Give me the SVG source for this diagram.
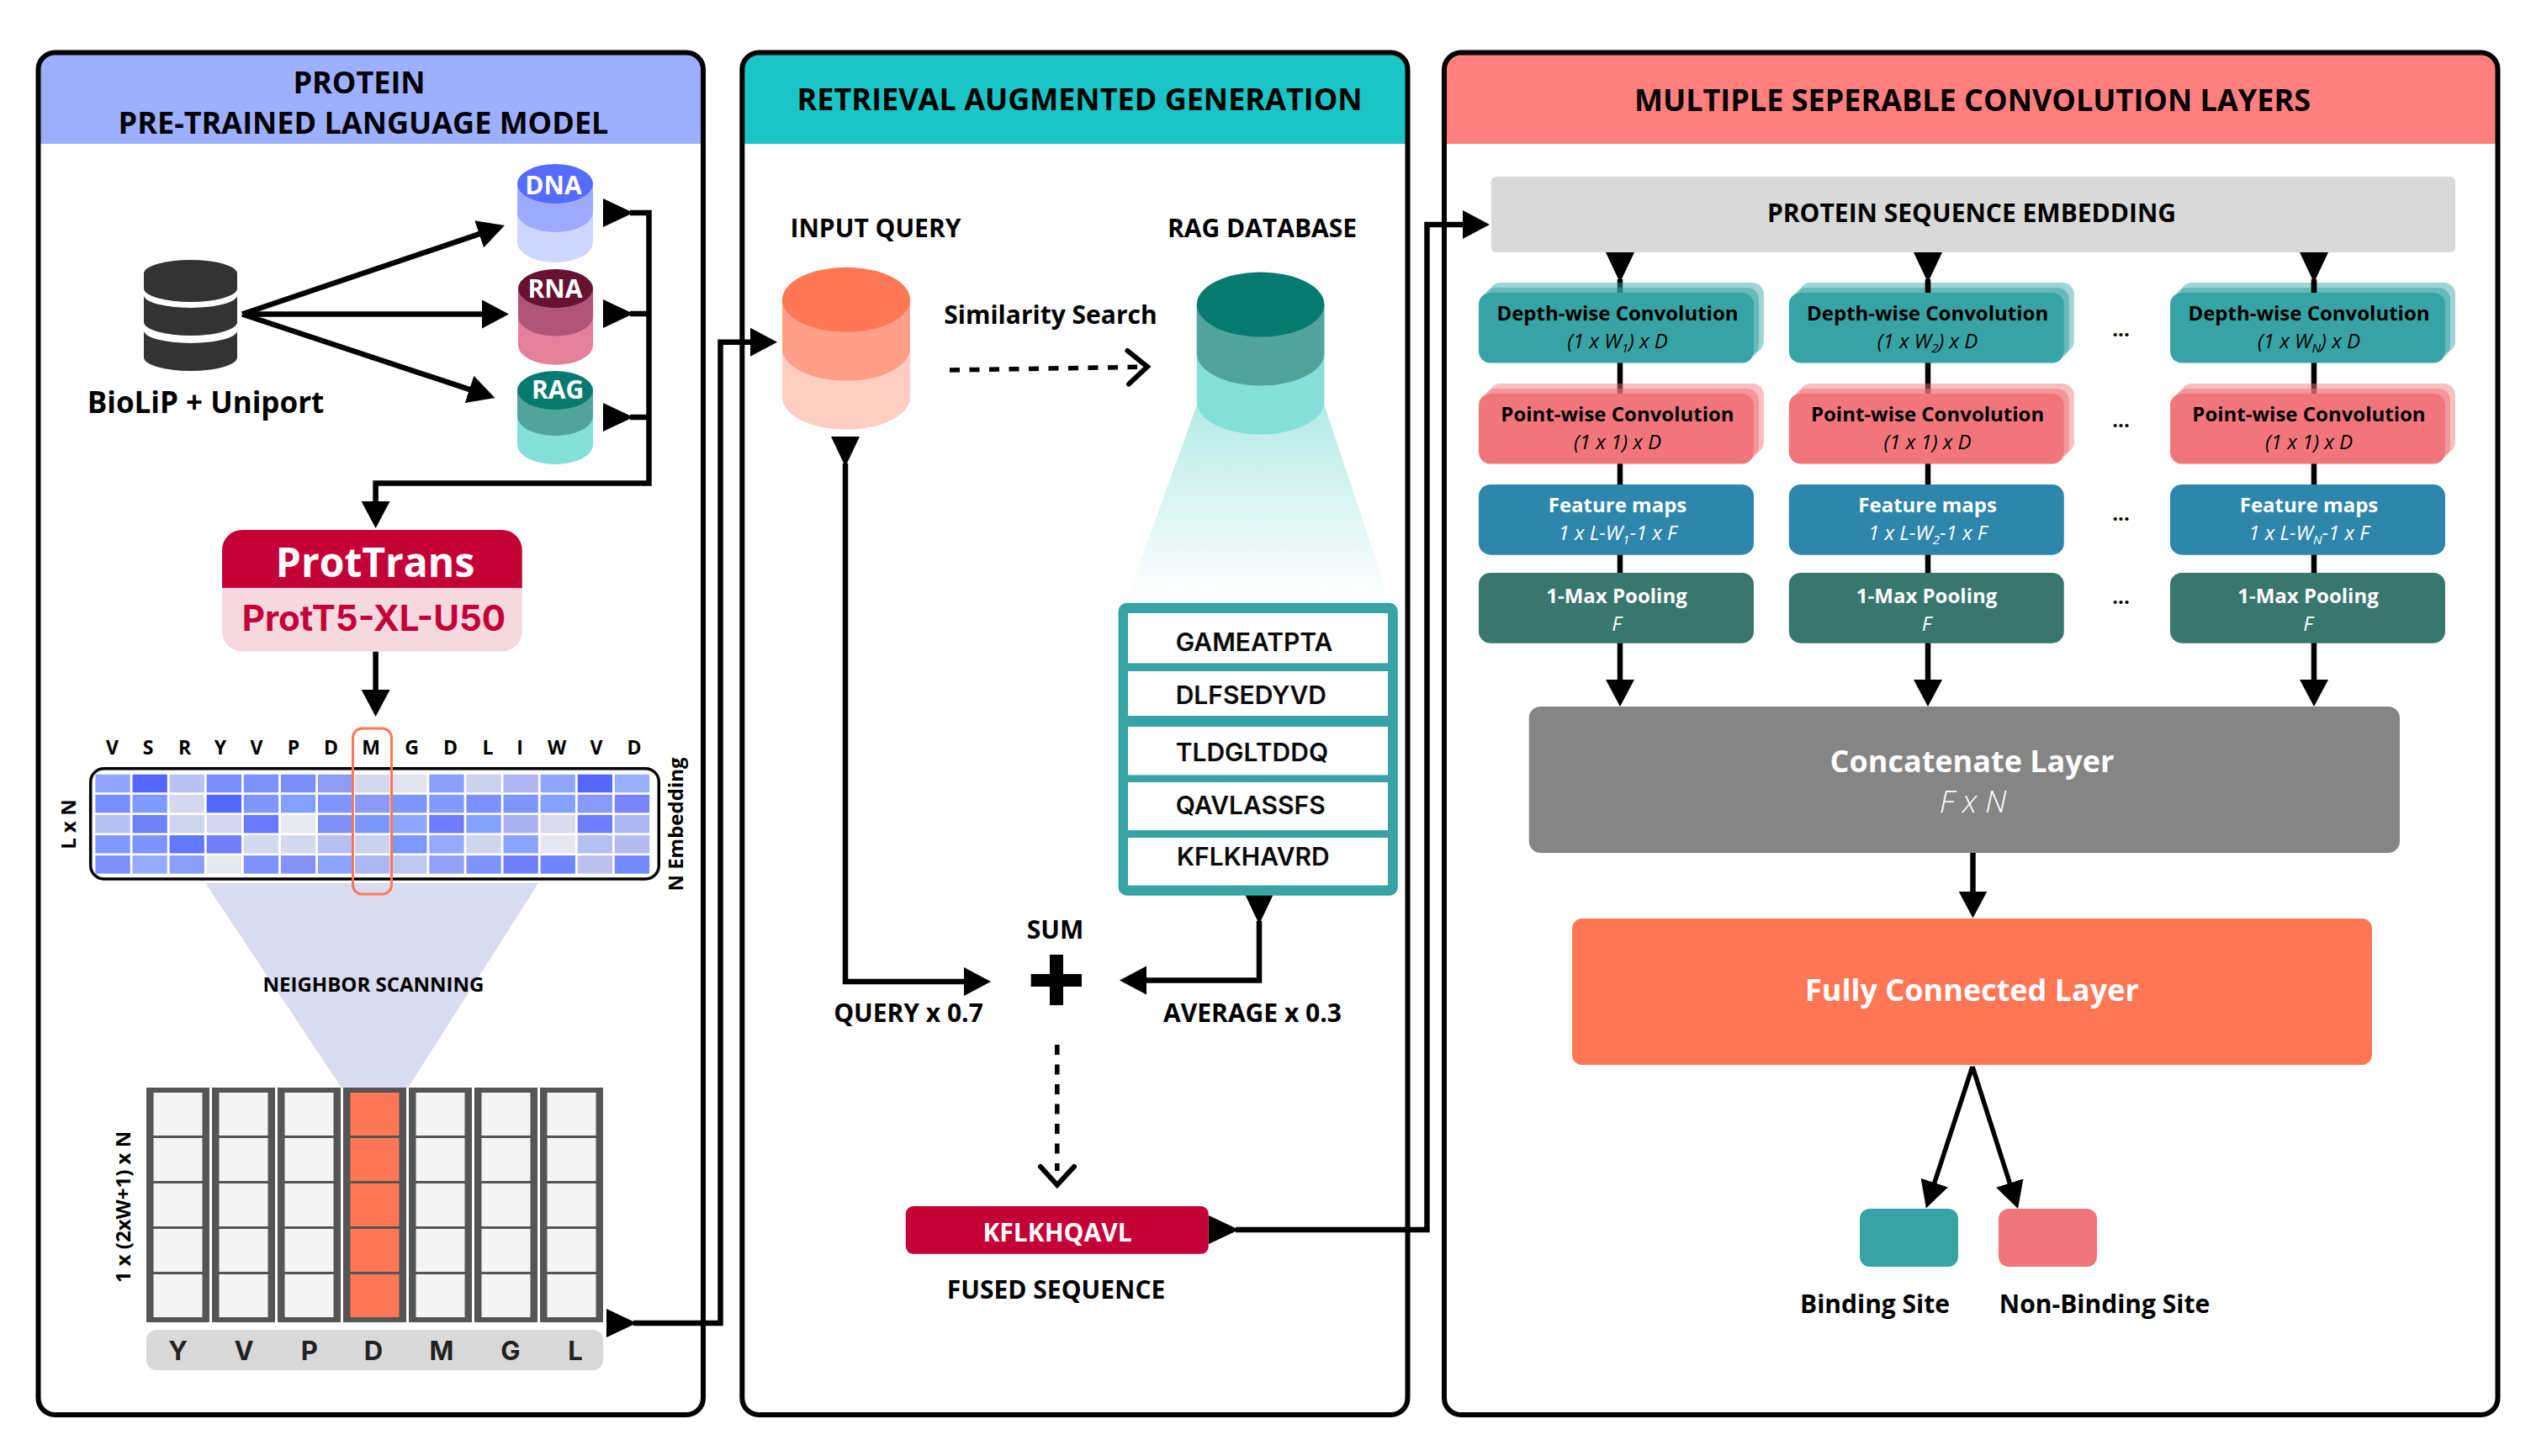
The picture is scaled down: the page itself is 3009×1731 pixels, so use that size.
<svg xmlns="http://www.w3.org/2000/svg" width="3009" height="1731" viewBox="0 0 3009 1731">
<style>
text{font-family:"Open Sans","Noto Sans",sans-serif;font-weight:700;fill:#000;text-anchor:middle}
.title{font-size:36px}
.lab{font-size:30px}
.seq{font-family:Inter,"Liberation Sans",sans-serif;font-size:30px;font-weight:600;text-anchor:start;fill:#0a0a0a}
.res{font-size:23px}
.win{font-family:Inter,"Liberation Sans",sans-serif;font-size:31px;fill:#222}
.rot{font-size:24px}
.db{font-size:30px;fill:#fff}
.h{font-size:24px}
.s{font-size:24px;font-weight:400;font-style:italic}
.w{fill:#fff}
.dots{font-size:24px}
.big{font-size:36px;fill:#fff}
.out{font-size:30px}
.panel{fill:none;stroke:#000;stroke-width:6}
.bg{fill:#fff}
.c{fill:none;stroke:#000;stroke-width:6.5}
.thin{stroke-width:5.5}
.m{marker-end:url(#arrow)}
.r{marker-start:url(#rev)}
.dash{fill:none;stroke:#000;stroke-width:5.5;stroke-dasharray:12 11.5}
.chev{fill:none;stroke:#000;stroke-width:6;stroke-linecap:round;stroke-linejoin:miter}
.depth{fill:#38a3a5}.point{fill:#f1767c}.map{fill:#2e86ab}.pool{fill:#38766e}
.o1{opacity:.47}.o2{opacity:.55}
.cell{fill:#f5f5f5}.hot{fill:#ff7755}.col{fill:#555}
</style>
<defs>
<marker id="arrow" markerUnits="userSpaceOnUse" markerWidth="32" markerHeight="34" viewBox="0 0 32 34" refX="22" refY="17" orient="auto"><path d="M0 0L32 17L0 34Z"/></marker>
<marker id="rev" markerUnits="userSpaceOnUse" markerWidth="36" markerHeight="34" viewBox="0 0 36 34" refX="32" refY="17" orient="auto"><path d="M0 0L36 17L0 34Z"/></marker>
<linearGradient id="fun" x1="0" y1="0" x2="0" y2="1"><stop offset="0" stop-color="#b5ebe6"/><stop offset="1" stop-color="#fff"/></linearGradient>
</defs>
<rect width="3009" height="1731" fill="#fff"/>

<g id="panel-protein">
<rect class="bg" x="45.500" y="62.500" width="790.500" height="1619.500" rx="20"/>
<path d="M45.500 171V82.500A20 20 0 0 1 65.500 62.500H816A20 20 0 0 1 836 82.500V171Z" fill="#9cb0ff"/>
<rect class="panel" x="45.500" y="62.500" width="790.500" height="1619.500" rx="20"/>
<text class="title" x="427" y="111">PROTEIN</text>
<text class="title" x="432" y="159">PRE-TRAINED LANGUAGE MODEL</text>
</g>
<g id="panel-rag">
<rect class="bg" x="882.300" y="62.500" width="791.200" height="1619.500" rx="20"/>
<path d="M882.300 171V82.500A20 20 0 0 1 902.300 62.500H1653.500A20 20 0 0 1 1673.500 82.500V171Z" fill="#1cc5c5"/>
<rect class="panel" x="882.300" y="62.500" width="791.200" height="1619.500" rx="20"/>
<text class="title" x="1283.600" y="131">RETRIEVAL AUGMENTED GENERATION</text>
</g>
<g id="panel-conv">
<rect class="bg" x="1717" y="62.500" width="1252.500" height="1619.500" rx="20"/>
<path d="M1717 171V82.500A20 20 0 0 1 1737 62.500H2949.500A20 20 0 0 1 2969.500 82.500V171Z" fill="#ff7f7f"/>
<rect class="panel" x="1717" y="62.500" width="1252.500" height="1619.500" rx="20"/>
<text class="title" x="2345" y="132">MULTIPLE SEPERABLE CONVOLUTION LAYERS</text>
</g>

<g id="neighbor-funnel"><path d="M244.400 1050H640L485 1293H405.800Z" fill="#d9dbee"/></g>
<g id="rag-funnel"><path d="M1423 481H1574.400L1652 714H1339Z" fill="url(#fun)"/></g>

<g id="connectors">
<path class="c" d="M288 373.500L590.500 271.200" marker-end="url(#arrow)"/>
<path class="c" d="M288 373.500H595" marker-end="url(#arrow)"/>
<path class="c" d="M288 373.500L578.900 469.900" marker-end="url(#arrow)"/>
<path class="c r m" d="M749 253H771.500V574.500H446.600V618"/>
<path class="c r" d="M749 373H771.500"/>
<path class="c r" d="M749 496H771.500"/>
<path class="c m" d="M446.600 774.500V842"/>
<path class="c r m" d="M753 1573H856.500V406.700H914"/>
<path class="c r m" d="M1005 551V1167H1168"/>
<path class="c r m" d="M1497 1095V1165.500H1341"/>
<path class="dash" d="M1129 440L1352 436.300"/>
<path class="chev" d="M1340.400 417L1364 436L1342 456.600"/>
<path class="dash" d="M1256.800 1242V1392"/>
<path class="chev" d="M1237 1387L1256.800 1408.700L1277 1387"/>
<path class="c r m" d="M1469 1462H1696.500V267H1761"/>
<path class="c r m" d="M1926 332V830"/>
<path class="c r m" d="M2292 332V830"/>
<path class="c r m" d="M2751 332V830"/>
<path class="c m" d="M2345.500 1014V1081.500"/>
<path class="c thin m" d="M2345 1268L2293 1427"/>
<path class="c thin m" d="M2345 1268L2396 1427.500"/>
</g>

<g id="biolip">
<path fill="#333" d="M171 325A55.500 16 0 0 1 282 325V343A55.500 16 0 0 1 171 343Z"/>
<path fill="#333" d="M171 351A55.500 15 0 0 0 282 351V383A55.500 16 0 0 1 171 383Z"/>
<path fill="#333" d="M171 393A55.500 15 0 0 0 282 393V425A55.500 16 0 0 1 171 425Z"/>
<text x="244.500" y="491" font-size="35" style="font-size:35px">BioLiP + Uniport</text>
</g>
<g id="db-dna">
<path fill="#cdd7ff" d="M615 218.500V288.500A45 23.500 0 0 0 705 288.500V218.500Z"/>
<path fill="#9daaff" d="M615 218.500V252.500A45 23.500 0 0 0 705 252.500V218.500Z"/>
<ellipse cx="660" cy="218.500" rx="45" ry="23.500" fill="#566bff"/>
<text class="db" x="658" y="231">DNA</text>
</g>
<g id="db-rna">
<path fill="#e47f9c" d="M616 343V410.700A44.500 23 0 0 0 705 410.700V343Z"/>
<path fill="#b05577" d="M616 343V376.500A44.500 23 0 0 0 705 376.500V343Z"/>
<ellipse cx="660.500" cy="343" rx="44.500" ry="23" fill="#661233"/>
<text class="db" x="660" y="354">RNA</text>
</g>
<g id="db-rag">
<path fill="#84e0d9" d="M615 464V529A45 23 0 0 0 705 529V464Z"/>
<path fill="#52a39c" d="M615 464V495A45 23 0 0 0 705 495V464Z"/>
<ellipse cx="660" cy="464" rx="45" ry="23" fill="#077a70"/>
<text class="db" x="663" y="474">RAG</text>
</g>
<g id="prottrans">
<path fill="#f5d8e0" d="M264 690H620.700V750.500A24 24 0 0 1 596.700 774.500H288A24 24 0 0 1 264 750.500Z"/>
<path fill="#c40039" d="M264 699V654A24 24 0 0 1 288 630H596.700A24 24 0 0 1 620.700 654V699Z"/>
<text x="446" y="686" style="font-size:48px;fill:#fff">ProtTrans</text>
<text x="444.500" y="750" style="font-size:42px;font-family:Inter,'Liberation Sans',sans-serif;fill:#c40039">ProtT5-XL-U50</text>
</g>

<g id="residues">
<text class="res" x="133.600" y="896.700">V</text><text class="res" x="176" y="896.700">S</text><text class="res" x="219.500" y="896.700">R</text><text class="res" x="262" y="896.700">Y</text><text class="res" x="305" y="896.700">V</text><text class="res" x="349" y="896.700">P</text><text class="res" x="393.500" y="896.700">D</text><text class="res" x="441" y="896.700">M</text><text class="res" x="489.500" y="896.700">G</text><text class="res" x="535.400" y="896.700">D</text><text class="res" x="580" y="896.700">L</text><text class="res" x="618" y="896.700">I</text><text class="res" x="662" y="896.700">W</text><text class="res" x="709" y="896.700">V</text><text class="res" x="754" y="896.700">D</text>
</g>
<g id="embedding-matrix">
<rect x="107.700" y="913.700" width="675.600" height="131.300" rx="16" fill="#fff" stroke="#000" stroke-width="3.500"/>
<g id="matrix-r1">
<rect x="113.400" y="920.700" width="41.300" height="21.500" fill="#8fa5ff"/><rect x="157.500" y="920.700" width="41.300" height="21.500" fill="#5468ff"/><rect x="201.600" y="920.700" width="41.300" height="21.500" fill="#b9c2f2"/><rect x="245.700" y="920.700" width="41.300" height="21.500" fill="#7a8fff"/><rect x="289.800" y="920.700" width="41.300" height="21.500" fill="#7f93ff"/><rect x="333.900" y="920.700" width="41.300" height="21.500" fill="#7a8fff"/><rect x="378" y="920.700" width="41.300" height="21.500" fill="#8e9bf5"/><rect x="422.100" y="920.700" width="41.300" height="21.500" fill="#d5d8ee"/><rect x="466.200" y="920.700" width="41.300" height="21.500" fill="#e3e4f0"/><rect x="510.300" y="920.700" width="41.300" height="21.500" fill="#8a9fff"/><rect x="554.400" y="920.700" width="41.300" height="21.500" fill="#cdd1f0"/><rect x="598.500" y="920.700" width="41.300" height="21.500" fill="#aeb5f2"/><rect x="642.600" y="920.700" width="41.300" height="21.500" fill="#8fa6ff"/><rect x="686.700" y="920.700" width="41.300" height="21.500" fill="#5468ff"/><rect x="730.800" y="920.700" width="41.300" height="21.500" fill="#97adff"/>
</g>
<g id="matrix-r2">
<rect x="113.400" y="944.800" width="41.300" height="21.500" fill="#7a8dff"/><rect x="157.500" y="944.800" width="41.300" height="21.500" fill="#7f9bff"/><rect x="201.600" y="944.800" width="41.300" height="21.500" fill="#d6d9ee"/><rect x="245.700" y="944.800" width="41.300" height="21.500" fill="#5468ff"/><rect x="289.800" y="944.800" width="41.300" height="21.500" fill="#7f96ff"/><rect x="333.900" y="944.800" width="41.300" height="21.500" fill="#84a0ff"/><rect x="378" y="944.800" width="41.300" height="21.500" fill="#7f94ff"/><rect x="422.100" y="944.800" width="41.300" height="21.500" fill="#8c98f5"/><rect x="466.200" y="944.800" width="41.300" height="21.500" fill="#7f96ff"/><rect x="510.300" y="944.800" width="41.300" height="21.500" fill="#8499ff"/><rect x="554.400" y="944.800" width="41.300" height="21.500" fill="#7d90ff"/><rect x="598.500" y="944.800" width="41.300" height="21.500" fill="#7f96ff"/><rect x="642.600" y="944.800" width="41.300" height="21.500" fill="#86a0ff"/><rect x="686.700" y="944.800" width="41.300" height="21.500" fill="#8899fa"/><rect x="730.800" y="944.800" width="41.300" height="21.500" fill="#7986fa"/>
</g>
<g id="matrix-r3">
<rect x="113.400" y="968.900" width="41.300" height="21.500" fill="#b5bef2"/><rect x="157.500" y="968.900" width="41.300" height="21.500" fill="#6f80fb"/><rect x="201.600" y="968.900" width="41.300" height="21.500" fill="#d0d5ef"/><rect x="245.700" y="968.900" width="41.300" height="21.500" fill="#d2d6f0"/><rect x="289.800" y="968.900" width="41.300" height="21.500" fill="#6879ff"/><rect x="333.900" y="968.900" width="41.300" height="21.500" fill="#e8e9ee"/><rect x="378" y="968.900" width="41.300" height="21.500" fill="#7f8ff8"/><rect x="422.100" y="968.900" width="41.300" height="21.500" fill="#7d97ff"/><rect x="466.200" y="968.900" width="41.300" height="21.500" fill="#8ea6ff"/><rect x="510.300" y="968.900" width="41.300" height="21.500" fill="#6e7cfa"/><rect x="554.400" y="968.900" width="41.300" height="21.500" fill="#86a0ff"/><rect x="598.500" y="968.900" width="41.300" height="21.500" fill="#a9b3f4"/><rect x="642.600" y="968.900" width="41.300" height="21.500" fill="#d9daec"/><rect x="686.700" y="968.900" width="41.300" height="21.500" fill="#6f7ffb"/><rect x="730.800" y="968.900" width="41.300" height="21.500" fill="#aeb7f2"/>
</g>
<g id="matrix-r4">
<rect x="113.400" y="993" width="41.300" height="21.500" fill="#8197ff"/><rect x="157.500" y="993" width="41.300" height="21.500" fill="#7d93ff"/><rect x="201.600" y="993" width="41.300" height="21.500" fill="#6477ff"/><rect x="245.700" y="993" width="41.300" height="21.500" fill="#6f7ffa"/><rect x="289.800" y="993" width="41.300" height="21.500" fill="#d3d9f1"/><rect x="333.900" y="993" width="41.300" height="21.500" fill="#d3d8ef"/><rect x="378" y="993" width="41.300" height="21.500" fill="#b7bff0"/><rect x="422.100" y="993" width="41.300" height="21.500" fill="#ccd1f0"/><rect x="466.200" y="993" width="41.300" height="21.500" fill="#7f98ff"/><rect x="510.300" y="993" width="41.300" height="21.500" fill="#95aaff"/><rect x="554.400" y="993" width="41.300" height="21.500" fill="#d0d5ee"/><rect x="598.500" y="993" width="41.300" height="21.500" fill="#8ca3ff"/><rect x="642.600" y="993" width="41.300" height="21.500" fill="#e6e7f0"/><rect x="686.700" y="993" width="41.300" height="21.500" fill="#b6bff2"/><rect x="730.800" y="993" width="41.300" height="21.500" fill="#b3baee"/>
</g>
<g id="matrix-r5">
<rect x="113.400" y="1017.100" width="41.300" height="21.500" fill="#7d90ff"/><rect x="157.500" y="1017.100" width="41.300" height="21.500" fill="#94acff"/><rect x="201.600" y="1017.100" width="41.300" height="21.500" fill="#8a9dfa"/><rect x="245.700" y="1017.100" width="41.300" height="21.500" fill="#e6e7f0"/><rect x="289.800" y="1017.100" width="41.300" height="21.500" fill="#7d91ff"/><rect x="333.900" y="1017.100" width="41.300" height="21.500" fill="#8592f7"/><rect x="378" y="1017.100" width="41.300" height="21.500" fill="#8ca3ff"/><rect x="422.100" y="1017.100" width="41.300" height="21.500" fill="#adb7f2"/><rect x="466.200" y="1017.100" width="41.300" height="21.500" fill="#bec7f0"/><rect x="510.300" y="1017.100" width="41.300" height="21.500" fill="#95a1f8"/><rect x="554.400" y="1017.100" width="41.300" height="21.500" fill="#7f93fc"/><rect x="598.500" y="1017.100" width="41.300" height="21.500" fill="#6f7efa"/><rect x="642.600" y="1017.100" width="41.300" height="21.500" fill="#6f84ff"/><rect x="686.700" y="1017.100" width="41.300" height="21.500" fill="#bdc1f0"/><rect x="730.800" y="1017.100" width="41.300" height="21.500" fill="#7289ff"/>
</g>
<rect x="419.500" y="866" width="46" height="197" rx="11" fill="none" stroke="#ff7755" stroke-width="3"/>
<text class="rot" transform="translate(90 980) rotate(-90)">L x N</text>
<text class="rot" transform="translate(812 980) rotate(-90)">N Embedding</text>
</g>
<text id="neighbor-label" x="444" y="1179" style="font-size:24px">NEIGHBOR SCANNING</text>

<g id="window">
<rect class="col" x="174" y="1293" width="75" height="279"/><rect class="col" x="252" y="1293" width="75" height="279"/><rect class="col" x="330" y="1293" width="75" height="279"/><rect class="col" x="408" y="1293" width="75" height="279"/><rect class="col" x="486" y="1293" width="75" height="279"/><rect class="col" x="564" y="1293" width="75" height="279"/><rect class="col" x="642" y="1293" width="75" height="279"/>
<rect class="cell" x="182.500" y="1299" width="58" height="51"/><rect class="cell" x="182.500" y="1353" width="58" height="51"/><rect class="cell" x="182.500" y="1407" width="58" height="51"/><rect class="cell" x="182.500" y="1461" width="58" height="51"/><rect class="cell" x="182.500" y="1515" width="58" height="51"/>
<rect class="cell" x="260.500" y="1299" width="58" height="51"/><rect class="cell" x="260.500" y="1353" width="58" height="51"/><rect class="cell" x="260.500" y="1407" width="58" height="51"/><rect class="cell" x="260.500" y="1461" width="58" height="51"/><rect class="cell" x="260.500" y="1515" width="58" height="51"/>
<rect class="cell" x="338.500" y="1299" width="58" height="51"/><rect class="cell" x="338.500" y="1353" width="58" height="51"/><rect class="cell" x="338.500" y="1407" width="58" height="51"/><rect class="cell" x="338.500" y="1461" width="58" height="51"/><rect class="cell" x="338.500" y="1515" width="58" height="51"/>
<rect class="hot" x="416.500" y="1299" width="58" height="51"/><rect class="hot" x="416.500" y="1353" width="58" height="51"/><rect class="hot" x="416.500" y="1407" width="58" height="51"/><rect class="hot" x="416.500" y="1461" width="58" height="51"/><rect class="hot" x="416.500" y="1515" width="58" height="51"/>
<rect class="cell" x="494.500" y="1299" width="58" height="51"/><rect class="cell" x="494.500" y="1353" width="58" height="51"/><rect class="cell" x="494.500" y="1407" width="58" height="51"/><rect class="cell" x="494.500" y="1461" width="58" height="51"/><rect class="cell" x="494.500" y="1515" width="58" height="51"/>
<rect class="cell" x="572.500" y="1299" width="58" height="51"/><rect class="cell" x="572.500" y="1353" width="58" height="51"/><rect class="cell" x="572.500" y="1407" width="58" height="51"/><rect class="cell" x="572.500" y="1461" width="58" height="51"/><rect class="cell" x="572.500" y="1515" width="58" height="51"/>
<rect class="cell" x="650.500" y="1299" width="58" height="51"/><rect class="cell" x="650.500" y="1353" width="58" height="51"/><rect class="cell" x="650.500" y="1407" width="58" height="51"/><rect class="cell" x="650.500" y="1461" width="58" height="51"/><rect class="cell" x="650.500" y="1515" width="58" height="51"/>
<text class="rot" transform="translate(155.400 1435) rotate(-90)">1 x (2xW+1) x N</text>
<rect x="174" y="1581" width="543" height="48" rx="12" fill="#d9d9d9"/>
<text class="win" x="211.500" y="1616.600">Y</text><text class="win" x="290" y="1616.600">V</text><text class="win" x="367.700" y="1616.600">P</text><text class="win" x="444" y="1616.600">D</text><text class="win" x="525" y="1616.600">M</text><text class="win" x="607" y="1616.600">G</text><text class="win" x="684" y="1616.600">L</text>
</g>

<g id="input-query">
<text class="lab" x="1041" y="282">INPUT QUERY</text>
<path fill="#ffcec3" d="M930 356.300V472.300A76 38.500 0 0 0 1082 472.300V356.300Z"/>
<path fill="#ff9f88" d="M930 356.300V414.300A76 38.500 0 0 0 1082 414.300V356.300Z"/>
<ellipse cx="1006" cy="356.300" rx="76" ry="38.500" fill="#ff7755"/>
</g>
<g id="rag-database">
<text class="lab" x="1500.500" y="282">RAG DATABASE</text>
<path fill="#84e0d9" d="M1422.800 362V478A75.800 38.500 0 0 0 1574.400 478V362Z"/>
<path fill="#52a39c" d="M1422.800 362V420A75.800 38.500 0 0 0 1574.400 420V362Z"/>
<ellipse cx="1498.600" cy="362" rx="75.800" ry="38.500" fill="#077a70"/>
</g>
<text id="similarity" class="lab" x="1249" y="384.500">Similarity Search</text>
<g id="retrieved-table">
<rect x="1329.600" y="716.800" width="332.200" height="348" rx="10" fill="#38a3a5"/>
<rect class="bg" x="1341" y="729" width="309" height="59.400"/><rect class="bg" x="1341" y="798" width="309" height="53"/><rect class="bg" x="1341" y="864" width="309" height="57.400"/><rect class="bg" x="1341" y="930" width="309" height="57"/><rect class="bg" x="1341" y="996" width="309" height="56.600"/>
<text class="seq" x="1397.700" y="774">GAMEATPTA</text>
<text class="seq" x="1397.700" y="837">DLFSEDYVD</text>
<text class="seq" x="1397.700" y="905">TLDGLTDDQ</text>
<text class="seq" x="1397.700" y="968.400">QAVLASSFS</text>
<text class="seq" x="1399" y="1029">KFLKHAVRD</text>
</g>
<g id="sum">
<text class="lab" x="1254.600" y="1115.800">SUM</text>
<path d="M1248 1135H1264V1158H1286V1173H1264V1195H1248V1173H1225.700V1158H1248Z"/>
</g>
<text id="query-weight" class="lab" x="1080" y="1214.800">QUERY x 0.7</text>
<text id="average-weight" class="lab" x="1489" y="1214.800">AVERAGE x 0.3</text>
<g id="fused">
<rect x="1076.800" y="1434" width="360" height="56.800" rx="9" fill="#c40039"/>
<text class="lab w" x="1257" y="1475.500">KFLKHQAVL</text>
<text class="lab" x="1255.600" y="1544.400">FUSED SEQUENCE</text>
</g>

<g id="embedding">
<rect x="1772.800" y="210" width="1146.200" height="90" rx="6" fill="#d9d9d9"/>
<text x="2344" y="263.700" style="font-size:30px">PROTEIN SEQUENCE EMBEDDING</text>
</g>

<g id="depth-1">
<rect class="depth o1" x="1770" y="336" width="327" height="83.500" rx="14"/><rect class="depth o2" x="1764" y="342" width="327" height="83.500" rx="14"/><rect class="depth" x="1758" y="348" width="327" height="83.500" rx="14"/>
<text class="h" x="1923" y="380.800">Depth-wise Convolution</text>
<text class="s" x="1923" y="414">(1 x W<tspan font-size="15" dy="5">1</tspan><tspan dy="-5">) x D</tspan></text>
</g>
<g id="point-1">
<rect class="point o1" x="1770" y="456" width="327" height="83.500" rx="14"/><rect class="point o2" x="1764" y="462" width="327" height="83.500" rx="14"/><rect class="point" x="1758" y="468" width="327" height="83.500" rx="14"/>
<text class="h" x="1923" y="501">Point-wise Convolution</text>
<text class="s" x="1923" y="534.300">(1 x 1) x D</text>
</g>
<g id="map-1">
<rect class="map" x="1758" y="576" width="327" height="83.700" rx="14"/>
<text class="h w" x="1923" y="609">Feature maps</text>
<text class="s w" x="1923" y="642">1 x L-W<tspan font-size="15" dy="5">1</tspan><tspan dy="-5">-1 x F</tspan></text>
</g>
<g id="pool-1">
<rect class="pool" x="1758" y="681" width="327" height="83.700" rx="14"/>
<text class="h w" x="1922" y="717">1-Max Pooling</text>
<text class="s w" x="1922" y="749.500">F</text>
</g>

<g id="depth-2">
<rect class="depth o1" x="2138.800" y="336" width="327" height="83.500" rx="14"/><rect class="depth o2" x="2132.800" y="342" width="327" height="83.500" rx="14"/><rect class="depth" x="2126.800" y="348" width="327" height="83.500" rx="14"/>
<text class="h" x="2291.600" y="380.800">Depth-wise Convolution</text>
<text class="s" x="2291.600" y="414">(1 x W<tspan font-size="15" dy="5">2</tspan><tspan dy="-5">) x D</tspan></text>
</g>
<g id="point-2">
<rect class="point o1" x="2138.800" y="456" width="327" height="83.500" rx="14"/><rect class="point o2" x="2132.800" y="462" width="327" height="83.500" rx="14"/><rect class="point" x="2126.800" y="468" width="327" height="83.500" rx="14"/>
<text class="h" x="2291.600" y="501">Point-wise Convolution</text>
<text class="s" x="2291.600" y="534.300">(1 x 1) x D</text>
</g>
<g id="map-2">
<rect class="map" x="2126.800" y="576" width="327" height="83.700" rx="14"/>
<text class="h w" x="2291.600" y="609">Feature maps</text>
<text class="s w" x="2291.600" y="642">1 x L-W<tspan font-size="15" dy="5">2</tspan><tspan dy="-5">-1 x F</tspan></text>
</g>
<g id="pool-2">
<rect class="pool" x="2126.800" y="681" width="327" height="83.700" rx="14"/>
<text class="h w" x="2290.600" y="717">1-Max Pooling</text>
<text class="s w" x="2290.600" y="749.500">F</text>
</g>

<g id="depth-3">
<rect class="depth o1" x="2592" y="336" width="327" height="83.500" rx="14"/><rect class="depth o2" x="2586" y="342" width="327" height="83.500" rx="14"/><rect class="depth" x="2580" y="348" width="327" height="83.500" rx="14"/>
<text class="h" x="2745" y="380.800">Depth-wise Convolution</text>
<text class="s" x="2745" y="414">(1 x W<tspan font-size="15" dy="5">N</tspan><tspan dy="-5">) x D</tspan></text>
</g>
<g id="point-3">
<rect class="point o1" x="2592" y="456" width="327" height="83.500" rx="14"/><rect class="point o2" x="2586" y="462" width="327" height="83.500" rx="14"/><rect class="point" x="2580" y="468" width="327" height="83.500" rx="14"/>
<text class="h" x="2745" y="501">Point-wise Convolution</text>
<text class="s" x="2745" y="534.300">(1 x 1) x D</text>
</g>
<g id="map-3">
<rect class="map" x="2580" y="576" width="327" height="83.700" rx="14"/>
<text class="h w" x="2745" y="609">Feature maps</text>
<text class="s w" x="2745" y="642">1 x L-W<tspan font-size="15" dy="5">N</tspan><tspan dy="-5">-1 x F</tspan></text>
</g>
<g id="pool-3">
<rect class="pool" x="2580" y="681" width="327" height="83.700" rx="14"/>
<text class="h w" x="2744" y="717">1-Max Pooling</text>
<text class="s w" x="2744" y="749.500">F</text>
</g>
<g id="ellipses">
<text class="dots" x="2521.500" y="400">...</text><text class="dots" x="2521.500" y="508">...</text><text class="dots" x="2521.500" y="619">...</text><text class="dots" x="2521.500" y="718">...</text>
</g>
<g id="connectors-over">
<path class="c" d="M2292 336V348"/><path class="c" d="M2751 336V348"/>
</g>
<g id="concatenate">
<rect x="1817.700" y="840" width="1035.300" height="174" rx="14" fill="#858585"/>
<text class="big" x="2344.500" y="917.600">Concatenate Layer</text>
<text class="s w" style="font-size:37px;font-weight:300" x="2345.500" y="965.800">F x N</text>
</g>
<g id="fully-connected">
<rect x="1869" y="1092" width="951" height="174" rx="12" fill="#ff7755"/>
<text class="big" x="2344.500" y="1190">Fully Connected Layer</text>
</g>
<g id="binding">
<rect class="depth" x="2211" y="1437" width="117" height="69" rx="12"/>
<text class="out" x="2229" y="1560.500">Binding Site</text>
</g>
<g id="non-binding">
<rect class="point" x="2376" y="1437" width="117" height="69" rx="12"/>
<text class="out" x="2502" y="1560.500">Non-Binding Site</text>
</g>
</svg>
